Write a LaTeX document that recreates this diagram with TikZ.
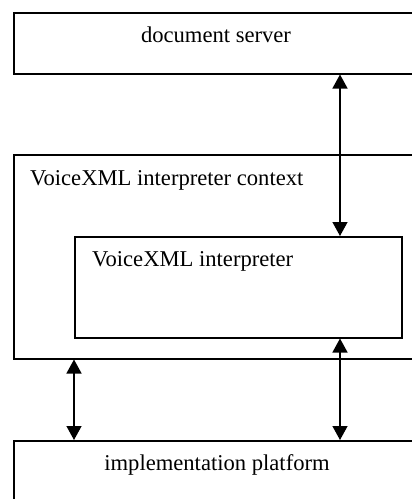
\documentclass[tikz,border=0pt]{standalone}
\usepackage{fontspec}
\setmainfont{Liberation Serif}
\usetikzlibrary{arrows.meta}

\begin{document}
\begin{tikzpicture}[x=1pt, y=-1pt,
        box/.style={draw, line width=1.5pt, rectangle, inner sep=0pt, anchor=north west},
        txt/.style={font=\fontsize{22.6}{27}\selectfont, inner sep=0pt},
        link/.style={{Triangle[length=14pt,width=15pt]}-{Triangle[length=14pt,width=15pt]}, line width=1.3pt}]
        \useasboundingbox (0, 0) rectangle (412, 499);
        \clip (0, 0) rectangle (412, 499);

        % boxes
        \node[box, minimum width=420pt, minimum height=61pt] (server) at (13, 12) {};
        \node[box, minimum width=420pt, minimum height=204pt] (context) at (13, 154) {};
        \node[box, minimum width=327pt, minimum height=101pt] (interp) at (74, 236) {};
        \node[box, minimum width=420pt, minimum height=90pt] (platform) at (13, 440) {};

        \node[txt, anchor=base] (serverlbl) at (216, 42) {document server};
        \node[txt, anchor=base west] (contextlbl) at (30, 185) {VoiceXML interpreter context};
        \node[txt, anchor=base west] (interplbl) at (92, 266) {VoiceXML interpreter};
        \node[txt, anchor=base] (platformlbl) at (217, 470) {implementation platform};

        % connectors
        \coordinate (rx) at (340, 0);
        \coordinate (lx) at (74, 0);
        \draw[link] (server.south -| rx) -- (interp.north -| rx);
        \draw[link] (interp.south -| rx) -- (platform.north -| rx);
        \draw[link] (context.south -| lx) -- (platform.north -| lx);
    \end{tikzpicture}
\end{document}
